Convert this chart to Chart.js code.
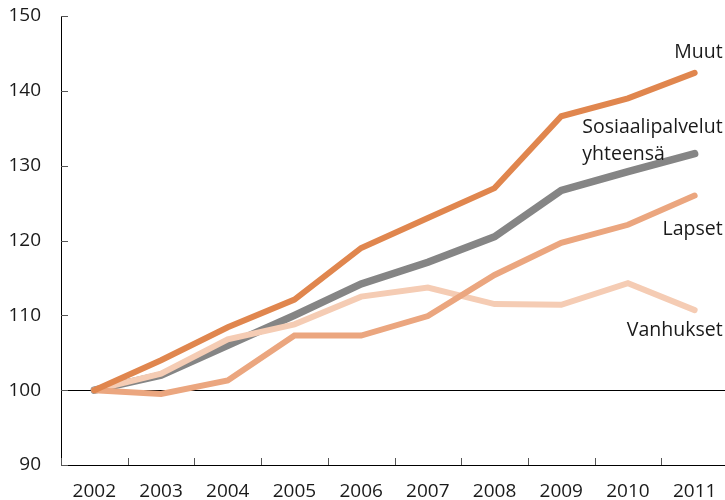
<!DOCTYPE html>
<html><head><meta charset="utf-8">
<script src="https://cdn.jsdelivr.net/npm/chart.js@4/dist/chart.umd.min.js"></script>
<style>html,body{margin:0;padding:0;overflow:hidden;background:#fff}#wrap{width:730px;height:500px}</style>
</head><body><div id="wrap"><canvas id="c" width="730" height="500"></canvas></div>
<script>
const years = ['2002','2003','2004','2005','2006','2007','2008','2009','2010','2011'];
const muut = [100, 104.0, 108.4, 112.1, 119.0, 123.0, 127.0, 136.6, 139.0, 142.4];
const yhteensa = [100, 102.0, 106.0, 110.0, 114.2, 117.1, 120.5, 126.7, 129.2, 131.6];
const lapset = [100, 99.5, 101.3, 107.3, 107.3, 109.9, 115.4, 119.7, 122.1, 126.0];
const vanhukset = [100, 102.2, 106.8, 108.8, 112.5, 113.7, 111.5, 111.4, 114.3, 110.7];
const yTicks = [90, 100, 110, 120, 130, 140, 150];

const FONT = '"Open Sans", Lato, sans-serif';

const labelsPlugin = {
  id: 'labels',
  afterDraw(chart) {
    const ctx = chart.ctx, x = chart.scales.x, y = chart.scales.y;
    const ca = chart.chartArea;
    ctx.save();
    ctx.strokeStyle = '#555'; ctx.lineWidth = 1;
    const n = years.length, bw = (x.right - x.left) / n;
    for (let i = 0; i <= n; i++) {
      const px = Math.round(x.left + i * bw) + 0.5;
      ctx.beginPath(); ctx.moveTo(px, ca.bottom); ctx.lineTo(px, ca.bottom - 7); ctx.stroke();
    }
    yTicks.forEach(v => {
      const py = Math.round(y.getPixelForValue(v)) + 0.5;
      ctx.beginPath(); ctx.moveTo(ca.left, py); ctx.lineTo(ca.left + 7, py); ctx.stroke();
    });
    ctx.fillStyle = '#1a1a1a';
    ctx.font = '19.5px ' + FONT;
    ctx.textAlign = 'right'; ctx.textBaseline = 'middle';
    const last = n - 1;
    const lx = x.getPixelForValue(last) + 28;
    ctx.fillText('Muut', lx, y.getPixelForValue(muut[last]) - 20);
    ctx.fillText('Sosiaalipalvelut', lx, y.getPixelForValue(yhteensa[last]) - 26);
    const sw = ctx.measureText('Sosiaalipalvelut').width;
    ctx.textAlign = 'left';
    ctx.fillText('yhteensä', lx - sw, y.getPixelForValue(yhteensa[last]) + 1);
    ctx.textAlign = 'right';
    ctx.fillText('Lapset', lx, y.getPixelForValue(lapset[last]) + 34);
    ctx.fillText('Vanhukset', lx, y.getPixelForValue(vanhukset[last]) + 20);
    ctx.restore();
  }
};

const ds = (label, data, color, w) => ({
  label, data, borderColor: color, borderWidth: w, pointRadius: 0,
  fill: false, tension: 0, borderCapStyle: 'round', borderJoinStyle: 'miter'
});

new Chart(document.getElementById('c'), {
  type: 'line',
  data: {
    labels: years,
    datasets: [
      ds('Muut', muut, '#E0864E', 6),
      ds('Lapset', lapset, '#EBA67F', 6),
      ds('Vanhukset', vanhukset, '#F5CCB4', 6),
      ds('Sosiaalipalvelut yhteensä', yhteensa, '#858585', 7.5)
    ]
  },
  options: {
    responsive: false, animation: false,
    layout: { autoPadding: false, padding: { top: 16, right: 2, left: 0, bottom: 0 } },
    plugins: { legend: { display: false }, tooltip: { enabled: false } },
    scales: {
      x: {
        offset: true,
        grid: { display: true, drawOnChartArea: false, drawTicks: false, offset: true, color: 'transparent' },
        border: { display: true, color: '#000', width: 1 },
        ticks: { color: '#1a1a1a', font: { family: FONT, size: 19 }, padding: 15, maxRotation: 0, autoSkip: false },
        afterFit(s) { s.height = 35; s.paddingLeft = 0; s.paddingRight = 0; }
      },
      y: {
        min: 90, max: 150,
        afterBuildTicks(s) { s.ticks = yTicks.map(v => ({ value: v })); },
        grid: { drawTicks: false, color: c => (c.tick && c.tick.value === 100) ? '#000' : 'transparent', lineWidth: 1 },
        border: { display: true, color: '#000', width: 1 },
        ticks: { color: '#1a1a1a', font: { family: FONT, size: 19 }, padding: 20 },
        afterFit(s) { s.width = 61; s.paddingTop = 0; s.paddingBottom = 0; }
      }
    }
  },
  plugins: [labelsPlugin]
});
</script></body></html>
